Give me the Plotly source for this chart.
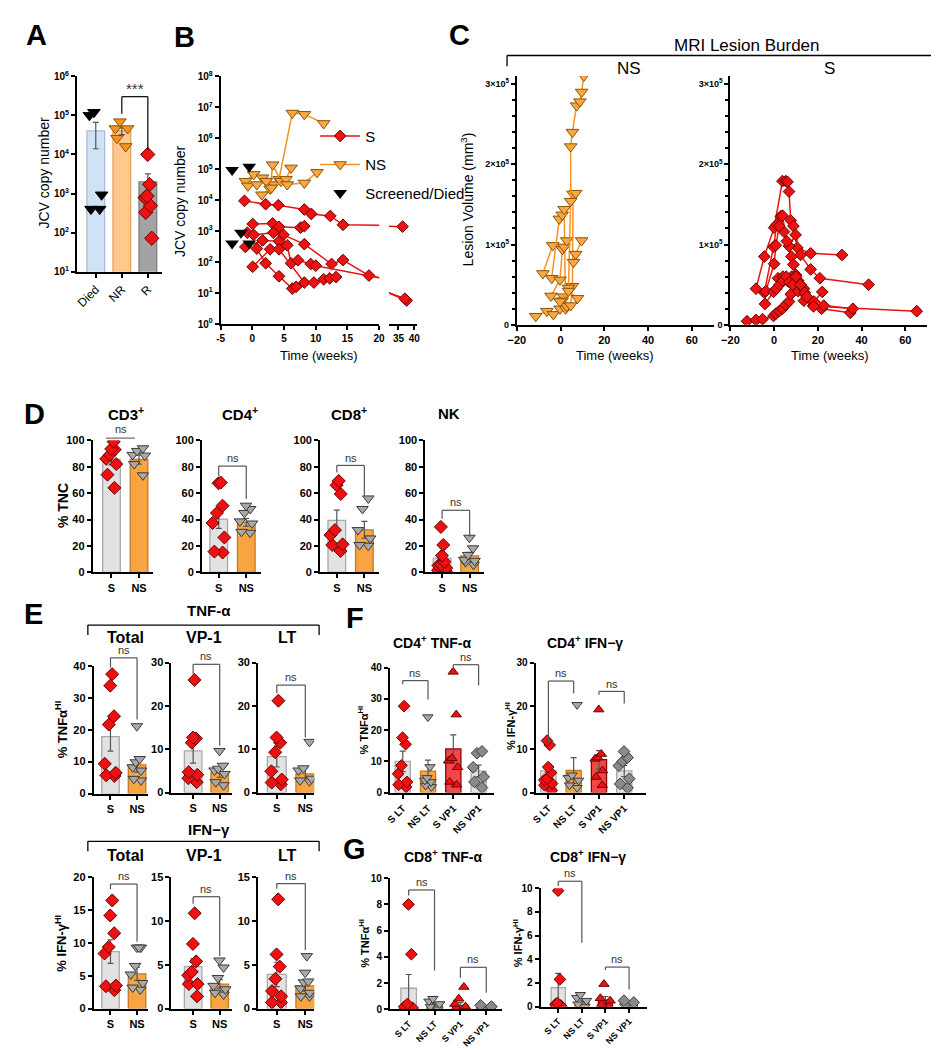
import numpy as np
import plotly.graph_objects as go

# ======================= DATA =======================
# Panel A
A_cats = ['Died', 'NR', 'R']
A_died = [1.2e5, 1.0e5, 9.3e2, 4.0e2, 4.0e2]
A_nr = [6.9e4, 4.6e4, 4.6e4, 2.6e4, 1.6e4]
A_r = [1.0e4, 1.7e3, 8.7e2, 7.8e2, 4.9e2, 3.3e2, 7.2e1]
A_mean = [4.0e4, 4.0e4, 2.0e3]
A_sem = [2.6e4, 8.0e3, 1.2e3]

# Panel B (JCV copy number vs time)
B_S_t = [[-1.25, 2.1, 4.1, 8.2, 9.3, 12.3, 14.3, 36.3],
         [0.05, 3.2, 4.2, 7.6, 8.2],
         [-0.8, 0.2, 3.3, 4.9, 8.2, 12.5, 14.3, 18.4, 37.6],
         [-1.1, 1.6, 4.2, 5.5, 6.1, 7.2, 9.2, 10.0, 37.0],
         [0.05, 2.8, 4.2, 8.2, 9.7, 11.25, 12.2, 13.2],
         [0.7, 2.1, 4.2, 6.3, 6.9]]
B_S_v = [[9500, 7400, 6900, 5000, 3600, 3100, 1600, 1400],
         [1700, 1780, 1380, 1300, 1450],
         [890, 760, 890, 760, 380, 87, 117, 37, 5.8],
         [310, 500, 470, 350, 92, 115, 87, 77, 6.6],
         [71, 260, 260, 22, 22, 28, 30, 33],
         [275, 92, 35, 14, 16]]
B_NS_t = [[-1.1, 0.2, 1.6, 3.4, 4.2, 6.3, 8.2, 11.25],
          [-0.7, 0.7, 2.2, 2.8, 3.2, 4.5],
          [1.5, 3.0, 5.3, 6.1],
          [5.5, 8.2, 10.2]]
B_NS_v = [[4.1e4, 6.8e4, 5.3e4, 3.2e4, 4.7e4, 6.5e6, 5.9e6, 3.0e6],
          [2.9e4, 3.2e4, 4.1e4, 2.3e4, 1.4e5, 4.1e4],
          [1.5e4, 2.5e4, 4.7e4, 1.1e5],
          [3.2e4, 3.6e4, 7.9e4]]
B_died_t = [-3.2, -0.5, -3.2, -1.8, -0.5]
B_died_v = [9.5e4, 1.2e5, 400, 890, 400]
B_ticks1 = [-5, 0, 5, 10, 15, 20]
B_ticks2 = [35, 40]

# Panel C (MRI lesion volume)
C_NS_t = [[-11.4, -6.3, -3.3, -0.3, 1.3],
          [-8.1, -3.6],
          [-4.1, -0.6, 0.75, 1.6, 2.3],
          [-4.4, -0.3, 0.8, 1.6, 2.8],
          [0.7, 2.8, 4.6, 5.4, 5.7, 6.9],
          [3.6, 4.6, 4.6, 5.4, 7.3, 8.8, 9.6, 10.6],
          [5.9, 6.9, 9.6],
          [-0.3, 3.6, 7.7]]
C_NS_v = [[1.07e4, 1.7e4, 1.3e4, 2.0e4, 3.5e4],
          [6.4e4, 9.9e4],
          [5.8e4, 1.32e5, 1.37e5, 1.44e5, 2.0e4],
          [3.6e4, 5.6e4, 9.4e4, 9.7e4, 1.05e5],
          [3.0e4, 2.3e4, 2.4e4, 4.8e4, 1.63e5, 1.64e5],
          [4.6e4, 1.54e5, 2.22e5, 2.4e5, 2.73e5, 2.78e5, 2.9e5, 3.1e5],
          [7.8e4, 8.8e4, 1.05e5],
          [2.9e4, 4.2e4, 3.3e4]]
C_S_t = [[-12.4, -8.3, -5.3, -0.3, 0.8, 2.3, 3.8, 5.3, 6.8, 7.6, 9.1, 11.0, 13.6, 17.9, 21.7, 34.8],
         [-8.3, -4.5, 0.0, 3.8, 5.3, 6.1, 6.8, 7.6, 8.8, 10.6, 16.7, 31.0],
         [-4.5, -0.3, 1.2, 3.0, 4.5, 6.8, 9.8, 12.1, 16.7, 20.9, 43.2],
         [-3.8, 0.0, 0.8, 2.3, 3.8, 5.8, 7.9, 8.8, 11.0, 13.6, 18.2, 22.0],
         [-4.2, -0.3, 1.8, 4.0, 6.0, 8.0, 10.0, 12.0, 14.0, 22.7, 36.0],
         [1.0, 2.5, 4.0, 5.5, 7.0, 8.5, 10.0, 12.0, 15.0, 18.0, 65.2]]
C_S_v = [[4.5e3, 6e3, 7e3, 1.1e4, 1.4e4, 1.7e4, 2.0e4, 2.5e4, 2.9e4, 3.8e4, 4.8e4, 4.2e4, 3.0e4, 2.4e4, 2.0e4, 1.5e4],
         [4.5e4, 8.5e4, 1.21e5, 1.79e5, 1.79e5, 1.78e5, 1.66e5, 1.3e5, 1.23e5, 9.6e4, 8.9e4, 8.7e4],
         [4.0e4, 9.7e4, 1.25e5, 1.35e5, 1.16e5, 9.8e4, 1.12e5, 8.7e4, 6.9e4, 5.8e4, 5.0e4],
         [4.2e4, 7.6e4, 9.9e4, 1.23e5, 1.36e5, 1.04e5, 8.5e4, 7.5e4, 5.5e4, 4.5e4, 2.9e4, 4.1e4],
         [2.6e4, 4.1e4, 5.8e4, 6.0e4, 5.5e4, 6.0e4, 6.2e4, 5.0e4, 4.0e4, 2.4e4, 2.0e4],
         [4.5e4, 5.0e4, 5.5e4, 6.0e4, 5.3e4, 5.0e4, 6.0e4, 5.0e4, 3.5e4, 2.3e4, 1.7e4]]

# Panel D (% TNC)
D_titles = ['CD3<sup>+</sup>', 'CD4<sup>+</sup>', 'CD8<sup>+</sup>', 'NK']
D_cats = ['S', 'NS']
D_S = [[99, 93, 93.5, 89, 86, 82, 74, 64],
       [67.5, 68, 50.5, 45, 37.4, 26.4, 15.7, 15],
       [69.3, 66, 59.4, 32, 28.2, 21.2, 20.7, 16.2],
       [34.4, 20.7, 12.7, 8, 5.7, 5.2, 3.2, 1.5, 0.7]]
D_NS = [[94, 92, 89, 88.5, 82, 73.5],
        [48, 50.5, 45, 38.6, 37, 30.7, 30],
        [56, 48, 32, 25.7, 20.7, 20.2],
        [26.2, 18.2, 13.2, 9.5, 8.7, 7.7, 5.7]]
D_mean = [[85.5, 85.5], [40.3, 37.8], [39.4, 32.2], [10.7, 12.5]]
D_sem = [[4.0, 3.5], [7.0, 3.0], [7.8, 6.4], [3.5, 2.6]]

# Panel E (% cytokine HI)
E_sub = ['Total', 'VP-1', 'LT']
E_tnf_S = [[37.4, 33.8, 24.2, 21.6, 9.3, 6.5, 5.7, 5.5],
           [26, 12.7, 12.5, 11.5, 4.7, 4.1, 3.3, 2.4],
           [21.2, 12.7, 11.5, 9.3, 4.9, 3.0, 2.3, 1.9]]
E_tnf_NS = [[21.1, 10.8, 9.8, 8.2, 7.2, 4.6, 4.1],
            [9.6, 6.2, 5.5, 5.1, 4.3, 2.4, 1.7],
            [11.7, 5.6, 5.1, 3.2, 2.8, 2.6]]
E_tnf_mean = [[17.8, 9.0], [9.6, 4.6], [8.3, 4.3]]
E_tnf_sem = [[4.5, 2.3], [2.8, 1.1], [2.4, 1.4]]
E_ifn_S = [[16.5, 14.2, 11.5, 9.4, 8.4, 3.5, 3.4, 2.8],
           [10.9, 7.4, 5.4, 4.2, 3.8, 2.8, 2.8, 1.4],
           [12.5, 6.2, 4.8, 3.4, 2.0, 1.4, 0.7, 0.7]]
E_ifn_NS = [[9.3, 9.3, 9.3, 6.5, 5.2, 3.9, 3.2, 2.9],
            [5.5, 4.7, 3.5, 2.6, 2.2, 1.8, 1.6],
            [6.0, 4.1, 3.1, 3.0, 2.3, 1.8, 1.4, 1.4]]
E_ifn_mean = [[8.7, 5.3], [4.8, 2.8], [3.9, 2.6]]
E_ifn_sem = [[1.8, 1.0], [0.9, 0.5], [1.4, 0.6]]

# Panels F & G
FG_cats = ['S LT', 'NS LT', 'S VP1', 'NS VP1']
F_tnf = [[27.7, 17.6, 15.5, 8.7, 6.0, 3.4, 2.5, 1.8],
         [24.2, 8.2, 4.7, 3.9, 3.4, 2.3, 1.8],
         [38.7, 25.0, 11.0, 10.2, 8.1, 3.4, 2.5],
         [13.2, 12.6, 8.1, 5.0, 3.4, 1.6]]
F_tnf_mean = [10.0, 6.9, 14.0, 6.9]
F_tnf_sem = [3.3, 3.5, 4.5, 1.9]
F_ifn = [[12.0, 11.0, 5.9, 4.6, 3.2, 2.9, 2.1, 1.7, 0.5],
         [20.3, 4.0, 3.4, 2.8, 1.7, 1.1],
         [19.2, 8.9, 8.1, 7.8, 5.1, 3.6, 1.7],
         [9.5, 8.1, 7.2, 6.2, 3.2, 2.0, 1.1]]
F_ifn_mean = [5.0, 5.1, 7.6, 5.0]
F_ifn_sem = [1.6, 3.0, 2.1, 1.3]
G_tnf = [[8.0, 4.2, 0.4, 0.2, 0.1, 0.05, 0.0],
         [0.8, 0.6, 0.4, 0.2, 0.0],
         [1.7, 0.8, 0.4, 0.2, 0.1, 0.0],
         [0.3, 0.2, 0.1, 0.05]]
G_tnf_mean = [1.6, 0.3, 0.3, 0.1]
G_tnf_sem = [1.05, 0.15, 0.2, 0.05]
G_ifn = [[9.8, 2.3, 0.3, 0.2, 0.1, 0.05, 0.0],
         [1.0, 0.75, 0.5, 0.2, 0.0],
         [1.9, 0.7, 0.5, 0.2, 0.0],
         [0.5, 0.35, 0.2, 0.05]]
G_ifn_mean = [1.6, 0.35, 0.55, 0.1]
G_ifn_sem = [1.2, 0.2, 0.3, 0.05]

# ======================= STYLE / HELPERS =======================
FONT = 'Arial'
W, H = 939, 1050
RED = '#EE1111'; RED_EDGE = '#6A0000'
OR_FILL = '#F9A645'; OR_EDGE = '#8A5500'; OR_LINE = '#F7931E'
GR_FILL = '#A9A9A9'; GR_EDGE = '#3A3A3A'; DK_FILL = '#8A8A8A'
LB = '#E2E2E2'; LB_EDGE = '#A8A8A8'
OB = '#F8A440'; OB_EDGE = '#C27A28'
RB = '#F04848'; RB_EDGE = '#900000'


def PX(x):
    return x / W


def PY(y):
    return 1 - y / H


fig = go.Figure()
LAYOUT = {}
SHAPES = []
ANNOTS = []
_cnt = [0]


def tfont(size=11, bold=True):
    return dict(family=FONT, size=size, color='black', weight='bold' if bold else 'normal')


def base_axis():
    return dict(showline=True, linecolor='black', linewidth=2, ticks='outside', ticklen=4,
                tickwidth=2, tickcolor='black', showgrid=False, zeroline=False,
                tickfont=tfont(), fixedrange=True)


def line_px(x0, y0, x1, y1, color='#555555', width=1.2):
    SHAPES.append(dict(type='line', xref='paper', yref='paper', x0=PX(x0), y0=PY(y0),
                       x1=PX(x1), y1=PY(y1), line=dict(color=color, width=width)))


def text_px(x, y, text, size=12, bold=False, color='black', angle=0, xanchor='center'):
    ANNOTS.append(dict(xref='paper', yref='paper', x=PX(x), y=PY(y), text=text, showarrow=False,
                       font=dict(family=FONT, size=size, color=color,
                                 weight='bold' if bold else 'normal'),
                       xanchor=xanchor, yanchor='middle', textangle=angle))


class Panel:
    def __init__(self, xpx, ypx, xr, yr, ylog=False, xaxis=None, yaxis=None):
        _cnt[0] += 1
        i = _cnt[0]
        s = '' if i == 1 else str(i)
        self.xa, self.ya = 'x' + s, 'y' + s
        self.xpx, self.ypx, self.xr, self.yr, self.ylog = xpx, ypx, xr, yr, ylog
        xd = base_axis()
        xd.update(domain=[PX(xpx[0]), PX(xpx[1])], range=list(xr), anchor=self.ya)
        if xaxis:
            xd.update(xaxis)
        yd = base_axis()
        if ylog:
            yd.update(type='log', range=[float(np.log10(yr[0])), float(np.log10(yr[1]))])
        else:
            yd.update(range=list(yr))
        yd.update(domain=[PY(ypx[0]), PY(ypx[1])], anchor=self.xa)
        if yaxis:
            yd.update(yaxis)
        LAYOUT['xaxis' + s] = xd
        LAYOUT['yaxis' + s] = yd

    def X(self, v):
        return self.xpx[0] + (v - self.xr[0]) / (self.xr[1] - self.xr[0]) * (self.xpx[1] - self.xpx[0])

    def Y(self, v):
        if self.ylog:
            v = np.log10(v)
            a, b = np.log10(self.yr[0]), np.log10(self.yr[1])
        else:
            a, b = self.yr
        return self.ypx[0] + (v - a) / (b - a) * (self.ypx[1] - self.ypx[0])

    def add(self, tr):
        tr.update(xaxis=self.xa, yaxis=self.ya)
        fig.add_trace(tr)

    def bracket(self, xl, xr_, top, lb, rb, label='ns', size=11, color='#555555'):
        X1, X2, T = self.X(xl), self.X(xr_), self.Y(top)
        line_px(X1, self.Y(lb), X1, T, color)
        line_px(X1, T, X2, T, color)
        line_px(X2, T, X2, self.Y(rb), color)
        text_px((X1 + X2) / 2, T - 8, label, size, color='#333333')


def dotbar(P, groups, means, sems, bcols, bedges, syms, mcols, medges, msize=9, bw=0.64):
    pos = list(range(len(groups)))
    P.add(go.Bar(x=pos, y=means, width=bw,
                 marker=dict(color=bcols, line=dict(color=bedges, width=1.3)),
                 error_y=dict(type='data', array=sems, color='#555555', thickness=1.2, width=3),
                 showlegend=False, hoverinfo='skip'))
    for k, vals in enumerate(groups):
        P.add(go.Box(x=[k] * len(vals), y=vals, orientation='v', boxpoints='all', jitter=0.85,
                     pointpos=0, width=bw, fillcolor='rgba(0,0,0,0)',
                     line=dict(color='rgba(0,0,0,0)', width=0),
                     marker=dict(symbol=syms[k], size=msize, color=mcols[k],
                                 line=dict(color=medges[k], width=1)),
                     showlegend=False, hoverinfo='skip'))


def cat_axis(labels, angle=0, size=11, bold=True):
    return dict(tickvals=list(range(len(labels))), ticktext=labels, tickangle=angle,
                tickfont=tfont(size, bold))


def pow_ticks(k0, k1, size=10):
    return dict(tickvals=[10 ** k for k in range(k0, k1 + 1)],
                ticktext=['10<sup>%d</sup>' % k for k in range(k0, k1 + 1)],
                tickfont=tfont(size))


# ======================= PANEL A =======================
PA = Panel((61, 147), (260, 62), (-0.72, 2.53), (10, 1e6), ylog=True,
           xaxis=cat_axis(A_cats, -45, 12, False), yaxis=pow_ticks(1, 6))
dotbar(PA, [A_died, A_nr, A_r], A_mean, A_sem,
       ['#CFE2F6', '#FFC98E', '#A3A3A3'], ['#A9BCD2', '#E3A463', '#7D7D7D'],
       ['triangle-down', 'triangle-down', 'diamond'], ['black', OR_LINE, RED],
       ['black', OR_EDGE, RED_EDGE], msize=11, bw=0.68)
PA.bracket(1, 2, 3.0e5, 1.1e5, 1.3e4, '***', size=15, color='black')
text_px(27, 160, 'JCV copy number', 14, angle=-90)

# ======================= PANEL B =======================
PB1 = Panel((207, 368), (313, 62), (-5, 20), (1, 1e8), ylog=True,
            xaxis=dict(tickvals=B_ticks1, ticktext=[str(v) for v in B_ticks1], tickfont=tfont(10)),
            yaxis=pow_ticks(0, 8))
PB2 = Panel((378, 407), (313, 62), (32, 41), (1, 1e8), ylog=True,
            xaxis=dict(tickvals=B_ticks2, ticktext=[str(v) for v in B_ticks2], tickfont=tfont(10)),
            yaxis=dict(visible=False))
for P in (PB1, PB2):
    for j, (t, v) in enumerate(zip(B_S_t, B_S_v)):
        P.add(go.Scatter(x=t, y=v, mode='lines+markers', name='S', legendgroup='S',
                         showlegend=(P is PB1 and j == 0),
                         line=dict(color=RED, width=1.5),
                         marker=dict(symbol='diamond', size=9, color=RED,
                                     line=dict(color=RED_EDGE, width=1)), hoverinfo='skip'))
for P in (PB1, PB2):
    for j, (t, v) in enumerate(zip(B_NS_t, B_NS_v)):
        P.add(go.Scatter(x=t, y=v, mode='lines+markers', name='NS', legendgroup='NS',
                         showlegend=(P is PB1 and j == 0),
                         line=dict(color=OR_LINE, width=1.5),
                         marker=dict(symbol='triangle-down', size=11, color=OR_FILL,
                                     line=dict(color=OR_EDGE, width=1)), hoverinfo='skip'))
PB1.add(go.Scatter(x=B_died_t, y=B_died_v, mode='markers', name='Screened/Died', legendgroup='D',
                   marker=dict(symbol='triangle-down', size=12, color='black'), hoverinfo='skip'))
text_px(165, 188, 'JCV copy number', 14, angle=-90)
text_px(307, 345, 'Time (weeks)', 13)

# ======================= PANEL C =======================
c_y = dict(tickvals=[0, 1e5, 2e5, 3e5],
           ticktext=['0', '1×10<sup>5</sup>', '2×10<sup>5</sup>', '3×10<sup>5</sup>'],
           tickfont=tfont(9),
           minor=dict(ticks='outside', dtick=20000, ticklen=3, tickwidth=1.5, tickcolor='black'))
c_x = dict(tickvals=[-20, 0, 20, 40, 60], tickfont=tfont(11))
PC1 = Panel((508, 708), (313.7, 61.7), (-20, 70), (0, 3.1e5), xaxis=c_x, yaxis=c_y)
PC2 = Panel((725, 925), (313.7, 61.7), (-20, 70), (0, 3.1e5), xaxis=c_x, yaxis=c_y)
for t, v in zip(C_NS_t, C_NS_v):
    PC1.add(go.Scatter(x=t, y=v, mode='lines+markers', showlegend=False,
                       line=dict(color=OR_LINE, width=1.5),
                       marker=dict(symbol='triangle-down', size=11, color=OR_FILL,
                                   line=dict(color=OR_EDGE, width=1)), hoverinfo='skip'))
for t, v in zip(C_S_t, C_S_v):
    PC2.add(go.Scatter(x=t, y=v, mode='lines+markers', showlegend=False,
                       line=dict(color=RED, width=1.5),
                       marker=dict(symbol='diamond', size=9, color=RED,
                                   line=dict(color=RED_EDGE, width=1)), hoverinfo='skip'))
text_px(742, 31, 'MRI Lesion Burden', 17)
line_px(498, 41, 933, 41, 'black', 1.3)
line_px(498, 41, 498, 52, 'black', 1.3)
line_px(933, 41, 933, 52, 'black', 1.3)
text_px(622, 54, 'NS', 17)
text_px(826, 54, 'S', 17)
text_px(457, 187, 'Lesion Volume (mm<sup>3</sup>)', 14, angle=-90)
text_px(608, 345, 'Time (weeks)', 13)
text_px(826, 345, 'Time (weeks)', 13)

# ======================= PANEL D =======================
D_xpx = [(77, 138), (188, 248), (308, 368), (415, 475)]
D_c0 = [96, 205, 325, 432]
D_title_x = [111, 227, 337, 439]
D_brk = [None, (80.5, 73, 55.6), (81, 75.6, 58), (47, 40.6, 27)]
for k in range(4):
    x0, x1 = D_xpx[k]
    P = Panel((x0, x1), (564.3, 430.7), ((x0 - D_c0[k]) / 28, (x1 - D_c0[k]) / 28), (0, 100),
              xaxis=cat_axis(D_cats), yaxis=dict(dtick=20))
    dotbar(P, [D_S[k], D_NS[k]], D_mean[k], D_sem[k], [LB, OB], [LB_EDGE, OB_EDGE],
           ['diamond', 'triangle-down'], [RED, GR_FILL], [RED_EDGE, GR_EDGE], msize=10)
    if D_brk[k] is None:
        line_px(P.X(-0.2), P.Y(101.7), P.X(0.85), P.Y(101.7), '#888888', 1.5)
        text_px(P.X(0.33), P.Y(101.7) - 9, 'ns', 11, color='#333333')
    else:
        P.bracket(0, 1, *D_brk[k])
    text_px(D_title_x[k], 404, D_titles[k], 15, bold=True)
text_px(47, 497, '% TNC', 14, bold=True, angle=-90)

# ======================= PANEL E =======================
E_xpx = [(78, 133), (157, 218), (245, 302)]
E_c0 = [95, 179, 264]
E_sp = [27, 27, 29]
E_tx = [110, 190, 275]
E_tnf_y = [((788.3, 659), (0, 40), 10), ((787.3, 655.7), (0, 30), 10), ((787.3, 655.7), (0, 30), 10)]
E_ifn_y = [((1006, 873.3), (0, 20), 5), ((1006, 873.3), (0, 15), 5), ((1006, 873.3), (0, 15), 5)]
E_tnf_brk = [(42.5, 39.5, 23.2), (29.6, 27.3, 10.8), (24.8, 22.9, 12.7)]
E_ifn_brk = [(19, 18.2, 10.2), (12.8, 12.0, 6.0), (14.3, 13.7, 6.7)]
for block, (Sd, NSd, mn, se, ys, brk) in enumerate([
        (E_tnf_S, E_tnf_NS, E_tnf_mean, E_tnf_sem, E_tnf_y, E_tnf_brk),
        (E_ifn_S, E_ifn_NS, E_ifn_mean, E_ifn_sem, E_ifn_y, E_ifn_brk)]):
    for k in range(3):
        x0, x1 = E_xpx[k]
        ypx, yr, dt = ys[k]
        P = Panel((x0, x1), ypx, ((x0 - E_c0[k]) / E_sp[k], (x1 - E_c0[k]) / E_sp[k]), yr,
                  xaxis=cat_axis(D_cats), yaxis=dict(dtick=dt))
        dotbar(P, [Sd[k], NSd[k]], mn[k], se[k], [LB, OB], [LB_EDGE, OB_EDGE],
               ['diamond', 'triangle-down'], [RED, GR_FILL], [RED_EDGE, GR_EDGE], msize=10, bw=0.66)
        P.bracket(0, 1, *brk[k])
# E headers
for (hy, by, sy, name) in [(603, 617.7, 630, 'TNF-α'), (825, 836.7, 851, 'IFN−γ')]:
    text_px(195, hy, name, 15, bold=True)
    line_px(72, by, 307, by, 'black', 1.3)
    line_px(72, by, 72, by + 10, 'black', 1.3)
    line_px(307, by, 307, by + 10, 'black', 1.3)
    for k in range(3):
        text_px(E_tx[k], sy, E_sub[k], 16, bold=True)
text_px(45, 723, '% TNFα<sup>HI</sup>', 13, bold=True, angle=-90)
text_px(45, 940, '% IFN-γ<sup>HI</sup>', 13, bold=True, angle=-90)

# ======================= PANELS F & G =======================
FG_bcols = [LB, OB, RB, LB]
FG_bedges = [LB_EDGE, OB_EDGE, RB_EDGE, LB_EDGE]
FG_syms = ['diamond', 'triangle-down', 'triangle-up', 'diamond']
FG_mcols = [RED, GR_FILL, RED, DK_FILL]
FG_medges = [RED_EDGE, GR_EDGE, RED_EDGE, GR_EDGE]
FG_specs = [
    # xpx, c0, spacing, ypx, yr, dtick, data, mean, sem, brackets, title, title pos, ytitle, ytitle pos, label size
    ((379, 485), 392, 25.7, (787.3, 661), (0, 40), 10, F_tnf, F_tnf_mean, F_tnf_sem,
     [(0, 1, 35.9, 34.7, 29.8), (2, 3, 41.0, 39.8, 34.3)],
     'CD4<sup>+</sup> TNF-α', (422, 635), '% TNFα<sup>HI</sup>', (352, 724), 10),
    ((527, 639), 540, 25.7, (787.3, 656), (0, 30), 10, F_ifn, F_ifn_mean, F_ifn_sem,
     [(0, 1, 25.8, 11.2, 23.0), (2, 3, 23.4, 22.6, 20.6)],
     'CD4<sup>+</sup> IFN−γ', (577, 635), '% IFN-γ<sup>HI</sup>', (501, 720), 10),
    ((379, 493), 398, 26.3, (1006.7, 874), (0, 10), 2, G_tnf, G_tnf_mean, G_tnf_sem,
     [(0, 1, 9.1, 8.67, 2.96), (2, 3, 3.2, 2.4, 1.26)],
     'CD8<sup>+</sup> TNF-α', (433, 852), '% TNFα<sup>HI</sup>', (353, 940), 9),
    ((532, 640), 550, 24.0, (1004, 884.3), (0, 10), 2, G_ifn, G_ifn_mean, G_ifn_sem,
     [(0, 1, 10.6, 10.2, 5.4), (2, 3, 3.34, 3.1, 1.45)],
     'CD8<sup>+</sup> IFN−γ', (580, 852), '% IFN-γ<sup>HI</sup>', (509, 940), 9),
]
for (xpx, c0, sp, ypx, yr, dt, dat, mn, se, brks, title, tpos, ytitle, ypos, lsz) in FG_specs:
    P = Panel(xpx, ypx, ((xpx[0] - c0) / sp, (xpx[1] - c0) / sp), yr,
              xaxis=cat_axis(FG_cats, -45, lsz), yaxis=dict(dtick=dt, tickfont=tfont(10)))
    dotbar(P, dat, mn, se, FG_bcols, FG_bedges, FG_syms, FG_mcols, FG_medges, msize=9, bw=0.6)
    for b in brks:
        P.bracket(*b)
    text_px(tpos[0], tpos[1], title, 14, bold=True)
    text_px(ypos[0], ypos[1], ytitle, 11, bold=True, angle=-90)

# ======================= PANEL LETTERS =======================
for (lx, ly, L) in [(20, 20, 'A'), (170, 22, 'B'), (450, 20, 'C'), (18, 404, 'D'),
                    (17, 607, 'E'), (343, 611, 'F'), (343, 844, 'G')]:
    text_px(lx, ly, L, 29, bold=True)

fig.update_layout(**LAYOUT)
fig.update_layout(
    width=W, height=H, margin=dict(l=0, r=0, t=0, b=0),
    paper_bgcolor='white', plot_bgcolor='white',
    barmode='overlay', boxmode='overlay', hovermode=False,
    shapes=SHAPES, annotations=ANNOTS,
    font=dict(family=FONT, color='black'),
    legend=dict(x=PX(303), y=PY(106), xanchor='left', yanchor='top',
                font=dict(family=FONT, size=15, color='black'), bgcolor='rgba(0,0,0,0)',
                tracegroupgap=6, itemwidth=40, traceorder='grouped'),
)
fig.write_html('out.html')
